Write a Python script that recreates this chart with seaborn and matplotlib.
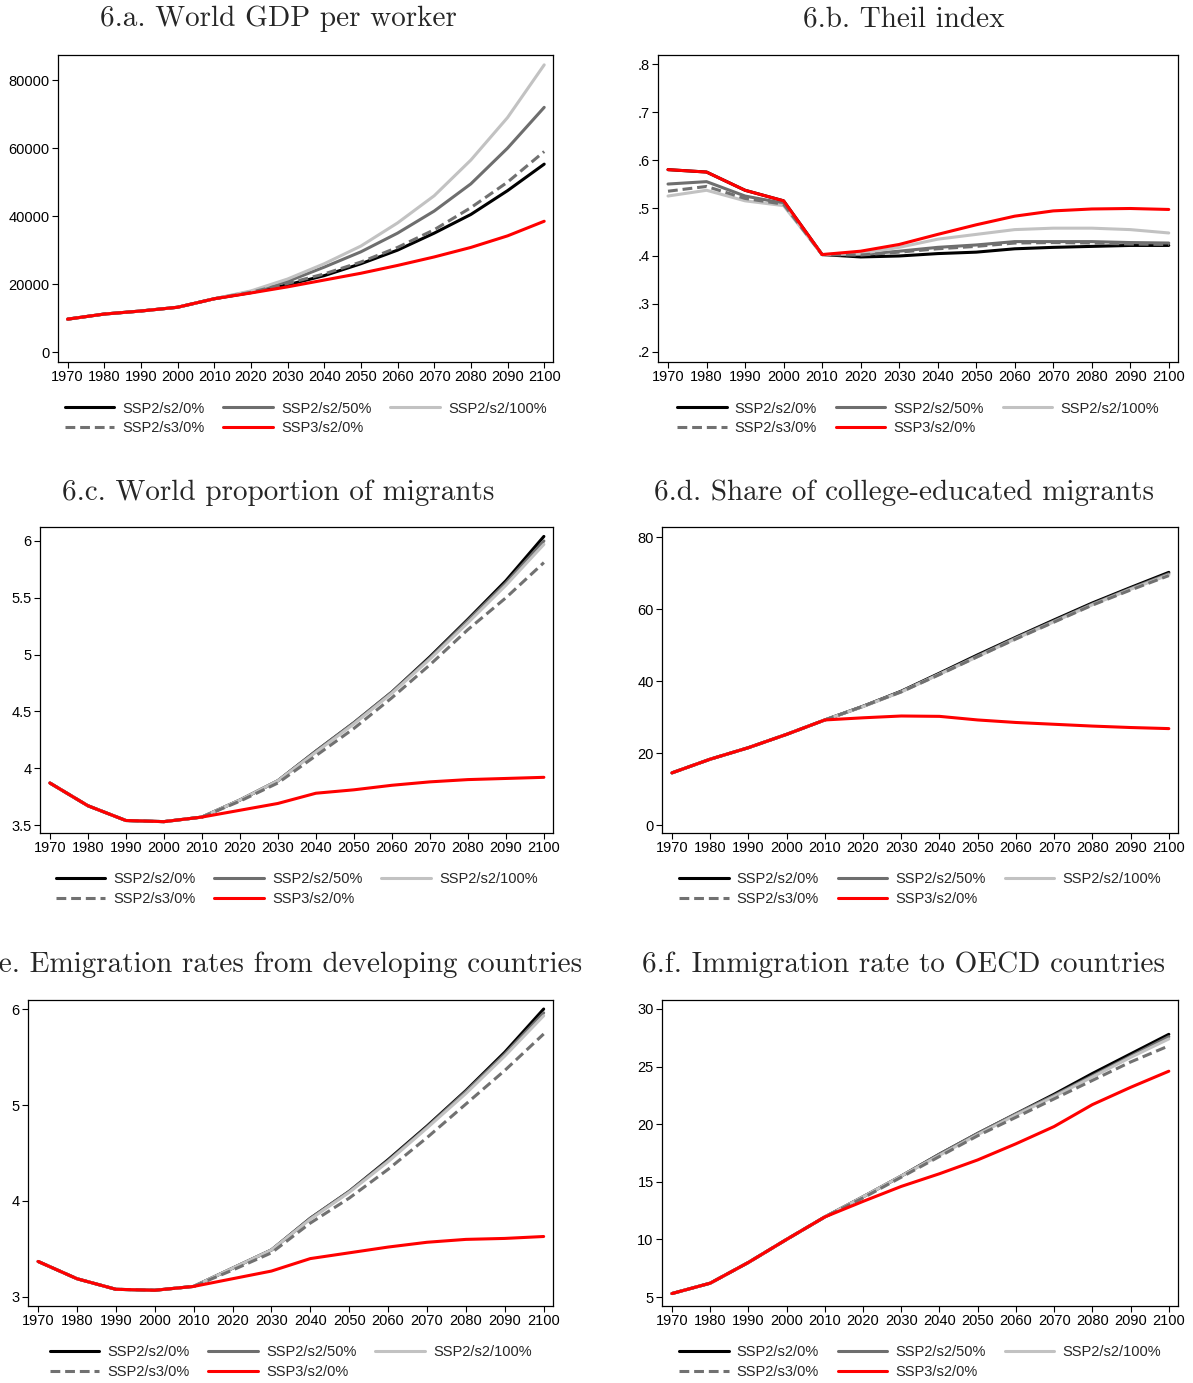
import matplotlib
matplotlib.use("Agg")
import matplotlib.pyplot as plt
import seaborn as sns
from matplotlib.lines import Line2D

# Style first, then fonts (set_style resets font.family)
sns.set_style("ticks")
plt.rcParams['font.family'] = ['Liberation Sans', 'DejaVu Sans']

years = [1970, 1980, 1990, 2000, 2010, 2020, 2030, 2040, 2050, 2060, 2070, 2080, 2090, 2100]
year_labels = [str(y) for y in years]

scenarios = ['SSP2/s2/0%', 'SSP2/s2/50%', 'SSP2/s2/100%', 'SSP2/s3/0%', 'SSP3/s2/0%']

# 6.a World GDP per worker
gdp_s2_0 = [9700, 11200, 12100, 13200, 15700, 17500, 19800, 22500, 26000, 30000, 35000, 40500, 47500, 55300]
gdp_s2_50 = [9700, 11200, 12100, 13200, 15700, 17800, 20800, 25000, 29500, 35000, 41500, 49500, 60000, 72000]
gdp_s2_100 = [9700, 11200, 12100, 13200, 15700, 18000, 21500, 26000, 31200, 38000, 46000, 56500, 69000, 84500]
gdp_s3_0 = [9700, 11200, 12100, 13200, 15700, 17600, 20200, 23000, 26500, 30800, 36000, 42500, 50000, 59000]
gdp_ssp3 = [9700, 11200, 12100, 13200, 15700, 17400, 19200, 21200, 23200, 25500, 28000, 30800, 34200, 38500]

# 6.b Theil index
theil_s2_0 = [.580, .575, .537, .515, .403, .398, .400, .405, .408, .415, .418, .420, .422, .422]
theil_s2_50 = [.550, .555, .525, .510, .403, .403, .410, .418, .423, .430, .430, .430, .428, .427]
theil_s2_100 = [.525, .537, .515, .505, .403, .405, .418, .435, .445, .455, .458, .458, .455, .448]
theil_s3_0 = [.535, .545, .520, .508, .403, .402, .408, .415, .420, .427, .428, .427, .425, .424]
theil_ssp3 = [.580, .575, .537, .515, .403, .410, .424, .445, .465, .483, .494, .498, .499, .497]

# 6.c World proportion of migrants
mig_s2_0 = [3.87, 3.67, 3.54, 3.53, 3.57, 3.72, 3.89, 4.15, 4.40, 4.67, 4.98, 5.31, 5.65, 6.04]
mig_s2_50 = [3.87, 3.67, 3.54, 3.53, 3.57, 3.72, 3.89, 4.15, 4.40, 4.67, 4.97, 5.30, 5.63, 6.00]
mig_s2_100 = [3.87, 3.67, 3.54, 3.53, 3.57, 3.72, 3.89, 4.14, 4.39, 4.66, 4.96, 5.28, 5.61, 5.97]
mig_s3_0 = [3.87, 3.67, 3.54, 3.53, 3.57, 3.71, 3.87, 4.11, 4.35, 4.62, 4.91, 5.22, 5.50, 5.81]
mig_ssp3 = [3.87, 3.67, 3.54, 3.53, 3.57, 3.63, 3.69, 3.78, 3.81, 3.85, 3.88, 3.90, 3.91, 3.92]

# 6.d Share of college-educated migrants
col_s2_0 = [14.5, 18.3, 21.5, 25.2, 29.2, 33.0, 37.2, 42.2, 47.3, 52.2, 57.0, 61.7, 66.0, 70.2]
col_s2_50 = [14.5, 18.3, 21.5, 25.2, 29.2, 33.0, 37.1, 42.0, 47.0, 52.0, 56.7, 61.4, 65.7, 69.8]
col_s2_100 = [14.5, 18.3, 21.5, 25.2, 29.2, 32.9, 37.0, 41.9, 46.8, 51.8, 56.5, 61.2, 65.5, 69.5]
col_s3_0 = [14.5, 18.3, 21.5, 25.2, 29.2, 33.0, 37.0, 41.8, 46.8, 51.7, 56.4, 61.1, 65.3, 69.3]
col_ssp3 = [14.5, 18.3, 21.5, 25.2, 29.2, 29.8, 30.3, 30.2, 29.2, 28.5, 28.0, 27.5, 27.1, 26.8]

# 6.e Emigration rates from developing countries
emi_s2_0 = [3.37, 3.19, 3.08, 3.07, 3.11, 3.30, 3.49, 3.82, 4.10, 4.43, 4.78, 5.15, 5.55, 6.00]
emi_s2_50 = [3.37, 3.19, 3.08, 3.07, 3.11, 3.30, 3.49, 3.82, 4.10, 4.42, 4.77, 5.14, 5.53, 5.96]
emi_s2_100 = [3.37, 3.19, 3.08, 3.07, 3.11, 3.30, 3.49, 3.81, 4.09, 4.41, 4.76, 5.12, 5.51, 5.93]
emi_s3_0 = [3.37, 3.19, 3.08, 3.07, 3.11, 3.28, 3.46, 3.77, 4.03, 4.33, 4.66, 5.01, 5.36, 5.74]
emi_ssp3 = [3.37, 3.19, 3.08, 3.07, 3.11, 3.19, 3.27, 3.40, 3.46, 3.52, 3.57, 3.60, 3.61, 3.63]

# 6.f Immigration rate to OECD countries
imm_s2_0 = [5.3, 6.2, 8.0, 10.0, 11.95, 13.7, 15.5, 17.4, 19.2, 20.9, 22.6, 24.4, 26.1, 27.8]
imm_s2_50 = [5.3, 6.2, 8.0, 10.0, 11.95, 13.7, 15.5, 17.4, 19.2, 20.9, 22.5, 24.2, 25.9, 27.6]
imm_s2_100 = [5.3, 6.2, 8.0, 10.0, 11.95, 13.7, 15.5, 17.3, 19.1, 20.8, 22.4, 24.1, 25.8, 27.4]
imm_s3_0 = [5.3, 6.2, 8.0, 10.0, 11.95, 13.6, 15.4, 17.2, 19.0, 20.6, 22.2, 23.8, 25.4, 26.8]
imm_ssp3 = [5.3, 6.2, 8.0, 10.0, 11.95, 13.3, 14.6, 15.7, 16.9, 18.3, 19.8, 21.7, 23.2, 24.6]

titles = ['6.a. World GDP per worker', '6.b. Theil index',
          '6.c. World proportion of migrants', '6.d. Share of college-educated migrants',
          '6.e. Emigration rates from developing countries', '6.f. Immigration rate to OECD countries']

yticks_a = [0, 20000, 40000, 60000, 80000]
ylabels_a = ['0', '20000', '40000', '60000', '80000']
yticks_b = [.2, .3, .4, .5, .6, .7, .8]
ylabels_b = ['.2', '.3', '.4', '.5', '.6', '.7', '.8']
yticks_c = [3.5, 4, 4.5, 5, 5.5, 6]
ylabels_c = ['3.5', '4', '4.5', '5', '5.5', '6']
yticks_d = [0, 20, 40, 60, 80]
ylabels_d = ['0', '20', '40', '60', '80']
yticks_e = [3, 4, 5, 6]
ylabels_e = ['3', '4', '5', '6']
yticks_f = [5, 10, 15, 20, 25, 30]
ylabels_f = ['5', '10', '15', '20', '25', '30']

panels = [
    (titles[0], [gdp_s2_0, gdp_s2_50, gdp_s2_100, gdp_s3_0, gdp_ssp3], yticks_a, ylabels_a, (-2900, 87400)),
    (titles[1], [theil_s2_0, theil_s2_50, theil_s2_100, theil_s3_0, theil_ssp3], yticks_b, ylabels_b, (.179, .819)),
    (titles[2], [mig_s2_0, mig_s2_50, mig_s2_100, mig_s3_0, mig_ssp3], yticks_c, ylabels_c, (3.43, 6.123)),
    (titles[3], [col_s2_0, col_s2_50, col_s2_100, col_s3_0, col_ssp3], yticks_d, ylabels_d, (-2.2, 82.8)),
    (titles[4], [emi_s2_0, emi_s2_50, emi_s2_100, emi_s3_0, emi_ssp3], yticks_e, ylabels_e, (2.906, 6.094)),
    (titles[5], [imm_s2_0, imm_s2_50, imm_s2_100, imm_s3_0, imm_ssp3], yticks_f, ylabels_f, (4.22, 30.78)),
]

# line styles for the five scenarios (black drawn first, red on top)
colors = ['#000000', '#6e6e6e', '#c2c2c2', '#717171', '#ff0000']
styles = ['-', '-', '-', (0, (3.2, 1.6)), '-']
zorders = [2, 3, 4, 5, 6]
lw = 2.2

# axes boxes in pixels: left, top, right, bottom
W, H = 1193, 1383
boxes = [(58, 55, 553, 362), (658, 55, 1178, 362),
         (40, 527, 553, 833), (662, 527, 1178, 833),
         (28, 1000, 553, 1306), (662, 1000, 1178, 1306)]
title_pos = [(278, 19), (904, 19), (278, 493), (904, 493), (279, 965), (904, 965)]

fig = plt.figure(figsize=(W / 100, H / 100), dpi=100)

for i, (title, series, yt, yl, ylim) in enumerate(panels):
    l, t, r, b = boxes[i]
    ax = fig.add_axes([l / W, 1 - b / H, (r - l) / W, (b - t) / H])
    for vals, c, ls, z in zip(series, colors, styles, zorders):
        sns.lineplot(x=years, y=vals, ax=ax, color=c, linewidth=lw, linestyle=ls, zorder=z)
    ax.set_xlim(1967.4, 2102.4)
    ax.set_ylim(*ylim)
    ax.set_xticks(years)
    ax.set_xticklabels(year_labels)
    ax.set_yticks(yt)
    ax.set_yticklabels(yl)
    ax.tick_params(axis='both', labelsize=10.5, length=4, width=0.8, pad=2, colors='black')
    for sp in ax.spines.values():
        sp.set_visible(True)
        sp.set_linewidth(0.9)
        sp.set_color('black')
    ax.set_xlabel('')
    ax.set_ylabel('')

    # legend laid out column-major to give two rows of three
    handles = [Line2D([], [], color=c, lw=lw, linestyle=ls) for c, ls in zip(colors, styles)]
    order = [0, 3, 1, 4, 2]
    ax.legend([handles[k] for k in order], [scenarios[k] for k in order],
              ncol=3, loc='upper center', bbox_to_anchor=(0.5, -0.105),
              frameon=False, fontsize=10.5, handlelength=3.4, handletextpad=0.55,
              columnspacing=1.3, borderpad=0, labelspacing=0.38)

    tx, ty = title_pos[i]
    fig.text(tx / W, 1 - ty / H, title, family='cmr10', fontsize=21,
             ha='center', va='center')

fig.savefig('out.png', dpi=100)
